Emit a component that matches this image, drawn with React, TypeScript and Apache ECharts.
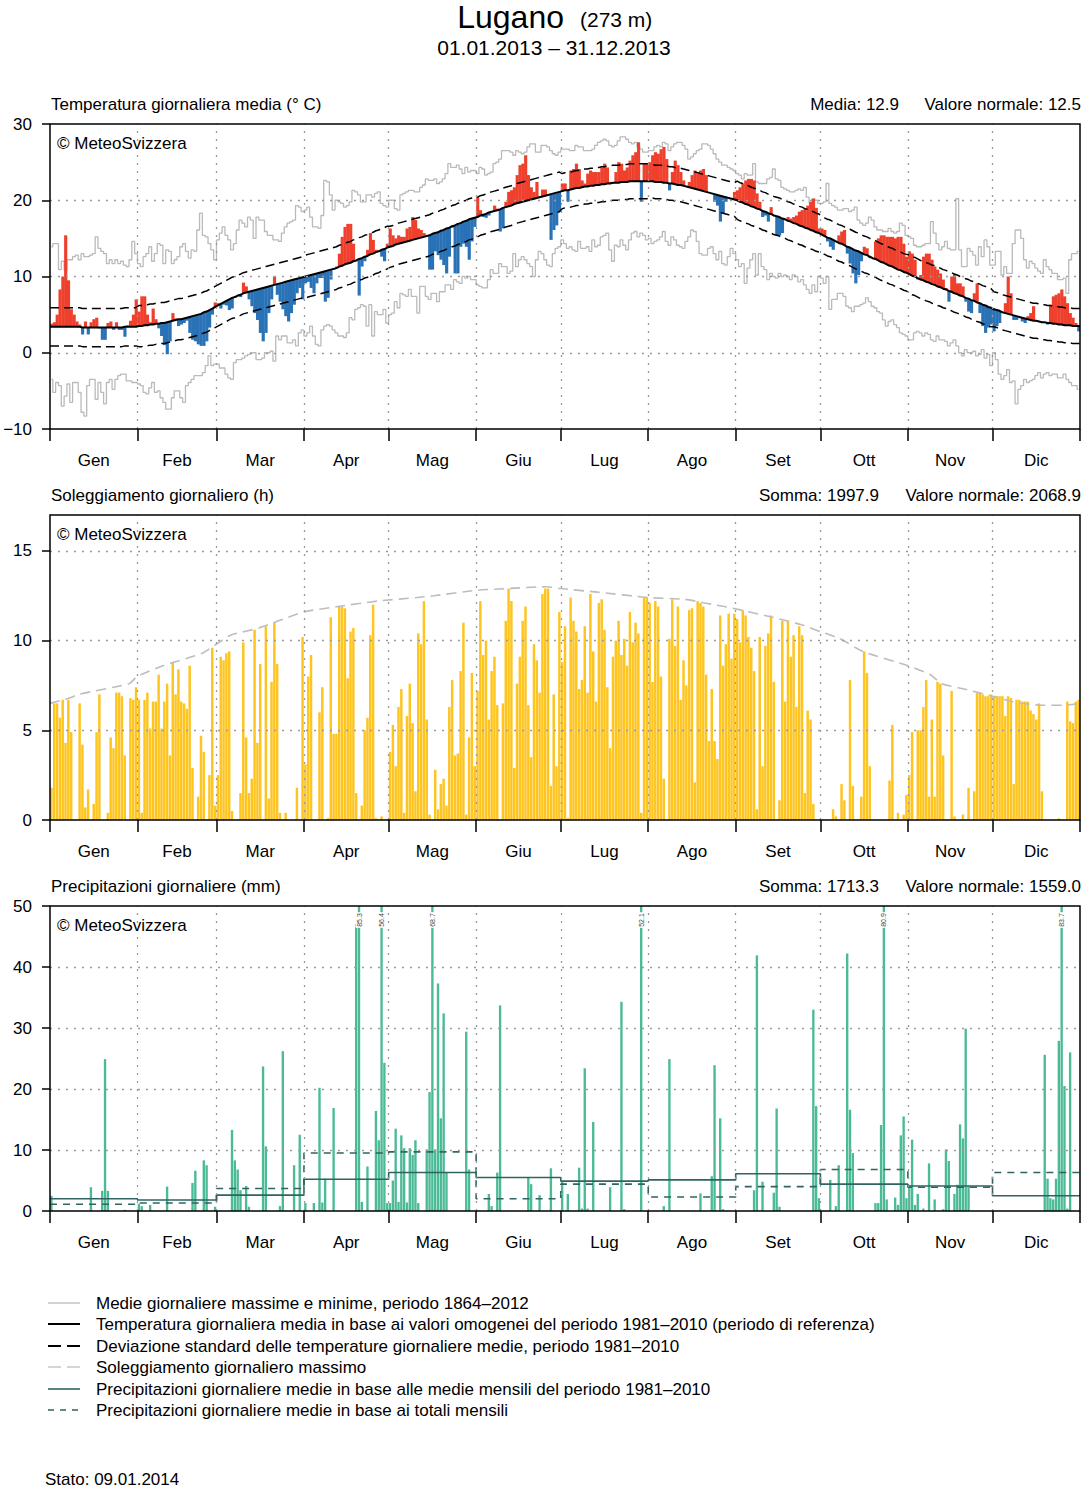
import React, { useEffect, useRef } from "react";
import * as echarts from "echarts";

const FONT = "'Liberation Sans', Arial, Helvetica, sans-serif";
const FS = 17;

const monthNames = ["Gen", "Feb", "Mar", "Apr", "Mag", "Giu", "Lug", "Ago", "Set", "Ott", "Nov", "Dic"];
const monthDays = [31, 28, 31, 30, 31, 30, 31, 31, 30, 31, 30, 31];

// daily mean temperature 2013 (°C)
const tempMean = [
  3.8,4.0,5.0,8.3,10.0,15.4,9.5,5.7,5.0,4.1,3.7,2.4,4.1,2.4,4.0,4.4,4.6,3.2,1.7,1.7,3.9,4.1,3.0,4.0,3.0,3.0,2.1,3.6,4.2,5.0,7.0,
  5.4,7.4,7.4,5.0,4.0,5.8,4.4,3.2,2.2,1.0,-0.2,1.5,5.2,4.5,3.5,3.7,3.9,4.2,2.6,1.7,1.5,1.1,0.9,0.9,1.5,3.3,5.0,6.6,
  6.5,5.8,6.3,6.2,5.6,5.8,7.2,7.4,7.3,9.2,8.7,7.0,6.1,5.2,4.3,2.6,1.5,2.6,5.2,7.0,10.0,7.6,6.7,5.7,4.8,4.1,5.2,6.3,7.8,8.5,7.0,
  9.1,9.3,8.5,7.8,9.1,9.8,9.8,6.7,7.2,9.6,10.9,11.3,13.0,15.2,16.5,16.9,16.9,14.3,12.0,7.5,11.3,12.0,13.5,15.7,14.8,13.5,13.3,12.6,12.0,14.3,
  16.3,15.4,15.0,15.4,15.2,15.2,16.3,16.5,17.8,17.4,16.3,16.1,15.7,15.3,10.9,10.9,13.3,12.8,12.2,11.5,10.4,12.6,16.4,10.4,10.4,13.9,14.3,13.9,12.2,14.6,16.5,
  20.4,18.7,17.8,17.7,18.0,18.5,19.3,18.9,15.9,16.3,19.8,21.1,21.3,21.7,23.3,24.6,24.8,25.9,23.3,21.7,21.1,22.4,20.5,21.4,21.4,20.7,14.8,16.1,16.7,18.5,
  22.2,22.2,19.8,23.9,24.1,24.8,24.1,22.6,22.2,23.5,23.9,23.7,23.7,23.7,24.3,24.8,24.3,22.4,22.2,23.7,25.0,24.8,23.9,24.3,25.2,25.9,26.3,27.6,19.8,24.8,24.8,
  25.0,25.9,26.3,26.1,26.7,27.0,25.4,21.3,23.7,25.2,24.6,23.7,22.6,21.8,22.4,23.3,23.9,23.5,23.9,24.1,23.3,21.0,20.8,19.8,19.3,17.2,18.3,19.8,20.3,20.1,21.1,
  21.3,21.7,22.2,22.6,22.8,22.8,22.6,20.9,19.8,17.8,18.0,17.2,19.1,18.0,15.4,15.4,15.7,17.5,17.8,17.6,17.8,18.0,18.5,18.7,18.9,19.3,19.8,20.2,19.0,16.3,
  16.3,16.1,14.6,13.9,13.5,14.5,15.4,15.9,16.1,13.0,11.7,10.4,9.1,10.2,12.0,13.9,13.7,12.4,12.4,14.6,15.0,15.4,15.4,15.2,15.2,15.2,15.0,15.2,15.2,14.3,12.6,
  13.3,13.0,12.2,9.6,10.2,12.6,13.0,13.0,12.2,11.3,10.9,10.4,9.6,8.5,6.7,10.0,10.4,9.1,9.1,8.7,6.7,5.4,5.2,7.8,9.1,5.2,3.5,2.6,3.3,3.7,
  2.8,3.5,3.9,5.3,6.5,10.0,7.8,4.3,4.3,4.7,4.1,3.9,4.8,5.2,6.1,4.2,4.1,4.0,3.9,3.7,6.3,7.4,7.6,7.8,8.3,7.4,6.5,5.2,4.6,3.9,2.8,
];

// daily normal 1981-2010 (°C)
const tempNormal = [
  3.4,3.4,3.4,3.4,3.4,3.4,3.4,3.4,3.4,3.4,3.4,3.3,3.3,3.3,3.3,3.3,3.3,3.3,3.3,3.3,3.3,3.3,3.3,3.3,3.3,3.3,3.4,3.4,3.4,3.4,3.4,
  3.5,3.5,3.6,3.6,3.7,3.7,3.8,3.8,3.9,3.9,4.0,4.1,4.2,4.3,4.4,4.4,4.5,4.6,4.7,4.8,4.9,5.0,5.1,5.3,5.4,5.6,5.8,6.0,
  6.2,6.4,6.6,6.8,7.0,7.2,7.3,7.5,7.6,7.8,7.9,8.0,8.1,8.2,8.3,8.4,8.5,8.6,8.7,8.8,8.9,9.0,9.1,9.2,9.3,9.4,9.5,9.6,9.7,9.8,9.9,
  10.0,10.1,10.2,10.3,10.4,10.5,10.6,10.7,10.8,10.9,11.0,11.1,11.3,11.4,11.6,11.7,11.8,12.0,12.1,12.3,12.4,12.6,12.7,12.9,13.0,13.2,13.3,13.5,13.6,13.8,
  13.9,14.0,14.2,14.3,14.4,14.5,14.6,14.7,14.8,14.9,15.0,15.1,15.2,15.3,15.4,15.6,15.7,15.8,16.0,16.1,16.3,16.4,16.6,16.7,16.9,17.0,17.2,17.3,17.5,17.6,17.7,
  17.8,18.0,18.1,18.2,18.4,18.5,18.6,18.7,18.8,19.0,19.1,19.2,19.3,19.5,19.6,19.7,19.8,19.9,20.0,20.1,20.2,20.3,20.4,20.5,20.6,20.7,20.8,20.9,21.0,21.1,
  21.2,21.3,21.3,21.4,21.5,21.6,21.6,21.7,21.8,21.8,21.9,21.9,22.0,22.0,22.1,22.1,22.2,22.2,22.3,22.3,22.3,22.4,22.4,22.4,22.5,22.5,22.5,22.5,22.5,22.5,22.5,
  22.5,22.5,22.4,22.4,22.4,22.3,22.3,22.2,22.2,22.1,22.0,22.0,21.9,21.8,21.7,21.6,21.5,21.4,21.3,21.2,21.1,21.0,20.9,20.8,20.7,20.6,20.5,20.4,20.3,20.2,20.1,
  20.0,19.8,19.7,19.5,19.4,19.2,19.1,18.9,18.8,18.6,18.5,18.3,18.2,18.0,17.9,17.8,17.6,17.5,17.3,17.2,17.0,16.9,16.7,16.6,16.4,16.3,16.1,16.0,15.8,15.7,
  15.5,15.3,15.1,15.0,14.8,14.6,14.4,14.3,14.1,13.9,13.8,13.6,13.4,13.3,13.1,12.9,12.8,12.6,12.4,12.3,12.1,11.9,11.8,11.6,11.4,11.3,11.1,10.9,10.8,10.6,10.5,
  10.3,10.1,10.0,9.8,9.6,9.5,9.3,9.2,9.0,8.9,8.7,8.6,8.4,8.3,8.1,8.0,7.8,7.7,7.5,7.4,7.2,7.1,6.9,6.8,6.6,6.5,6.3,6.2,6.0,5.9,
  5.7,5.6,5.5,5.3,5.2,5.1,5.0,4.9,4.8,4.7,4.6,4.5,4.4,4.3,4.2,4.2,4.1,4.0,4.0,3.9,3.9,3.8,3.8,3.7,3.7,3.6,3.6,3.6,3.5,3.5,3.5,
];

// monthly standard deviation of daily means 1981-2010 (°C)
const tempSd = [2.5, 2.7, 2.7, 2.8, 2.7, 2.6, 2.3, 2.2, 2.5, 2.4, 2.5, 2.3];

// highest daily mean 1864-2012 (°C)
const tempHistMax = [
  13.9,14.3,14.3,10.9,12.0,10.8,12.2,12.2,12.6,12.8,12.2,13.0,12.6,12.6,12.8,13.0,15.2,13.7,13.3,13.0,11.7,12.2,11.7,12.2,11.7,12.0,11.5,11.3,12.2,14.6,13.0,
  11.7,11.3,12.6,13.0,13.9,12.0,13.0,14.3,14.1,11.7,13.5,13.3,11.7,12.2,12.6,13.9,14.3,13.3,12.4,13.5,13.3,16.1,18.3,15.4,15.2,14.3,13.5,12.2,
  14.8,15.7,16.5,15.4,14.8,13.5,14.3,16.1,17.4,17.0,16.5,17.8,17.4,15.0,17.8,17.4,17.4,15.9,15.4,15.4,14.8,14.8,14.6,15.7,16.5,17.0,17.2,17.4,19.3,19.1,18.5,
  18.7,19.1,17.8,16.5,16.5,16.3,18.0,22.6,22.4,20.7,18.7,20.0,19.8,19.6,19.1,19.3,19.8,21.3,21.1,20.7,19.8,19.8,20.7,20.7,20.4,20.9,21.1,19.6,19.3,19.1,
  20.0,20.0,18.9,18.7,20.7,20.9,21.1,21.3,21.3,21.1,21.1,21.7,22.0,22.8,22.6,22.6,22.8,22.2,22.4,22.8,23.5,24.8,24.3,24.3,24.6,24.1,23.5,24.3,23.7,23.9,23.9,
  23.5,24.3,24.1,23.3,23.5,23.7,24.8,25.0,25.4,26.5,26.5,26.5,26.3,25.9,26.5,26.3,26.1,26.3,27.0,27.4,27.4,26.3,26.3,27.2,27.2,27.0,26.5,26.1,25.9,26.3,
  26.7,26.7,26.7,26.5,26.5,27.2,27.0,27.0,26.5,26.5,26.5,26.7,27.2,27.6,27.8,28.0,27.8,27.2,27.0,27.2,27.8,28.3,28.3,28.0,27.6,27.4,27.6,27.0,26.7,26.3,26.3,
  26.5,26.5,27.0,27.2,27.0,27.6,27.4,26.5,27.0,27.4,27.6,27.6,27.2,26.7,25.4,25.7,26.1,26.5,26.7,27.4,27.4,27.2,26.7,26.1,25.4,25.0,24.6,24.6,24.3,24.1,23.9,
  23.5,23.3,22.8,23.5,23.3,23.3,24.8,22.4,22.2,22.2,22.2,22.8,23.0,24.1,22.8,22.6,21.7,21.5,21.3,21.1,21.1,21.3,21.5,21.3,21.7,20.4,19.6,20.2,20.0,19.6,
  19.6,19.8,22.2,19.6,19.3,19.1,18.7,18.7,18.9,18.9,18.5,18.7,19.1,17.4,17.0,16.7,17.0,17.8,17.4,16.5,16.1,16.1,15.9,15.9,16.3,15.9,15.7,15.9,17.0,16.7,15.4,
  15.2,15.0,14.1,13.9,13.9,14.1,14.3,14.3,17.2,15.7,14.3,13.5,13.9,14.6,13.7,13.5,13.5,20.2,13.5,11.3,11.3,13.7,13.3,12.8,11.5,13.9,12.6,14.8,13.9,11.5,
  11.5,13.3,13.3,10.2,11.3,10.4,10.4,14.3,16.1,16.1,15.0,12.2,11.1,12.0,11.7,11.1,10.7,10.4,12.2,11.3,10.9,10.4,10.4,9.6,9.6,9.8,7.8,12.2,13.0,13.0,13.3,
];

// lowest daily mean 1864-2012 (°C)
const tempHistMin = [
  -3.5,-5.2,-3.9,-4.3,-7.0,-5.7,-4.1,-6.5,-3.9,-3.9,-5.2,-7.8,-8.3,-4.3,-3.5,-3.5,-6.1,-3.9,-5.2,-6.7,-3.9,-3.5,-4.8,-3.5,-3.0,-2.8,-2.8,-3.7,-3.7,-3.9,-3.9,
  -4.1,-4.3,-5.2,-5.4,-4.6,-3.9,-5.2,-5.0,-5.9,-6.5,-7.4,-7.4,-5.9,-5.0,-5.0,-5.9,-6.5,-4.3,-3.9,-3.5,-3.0,-3.0,-3.0,-2.6,-1.7,-0.4,-1.7,-1.5,
  -1.5,-2.0,-2.0,-2.8,-3.3,-3.5,-1.3,-0.9,-0.9,-0.7,-0.4,-0.2,0.0,0.0,-0.9,-0.9,-0.7,0.0,0.0,0.2,-1.1,2.2,1.7,2.2,2.2,1.3,1.3,1.7,0.9,2.6,3.0,
  2.2,2.6,3.5,2.2,1.1,0.9,3.0,3.5,3.7,3.5,3.0,2.6,2.2,2.2,2.0,2.6,4.6,4.3,5.7,5.9,6.3,6.1,3.5,6.3,2.2,5.4,5.0,5.0,5.7,3.9,
  5.0,5.2,6.7,5.9,7.8,7.6,7.4,8.3,7.4,7.4,5.2,8.7,8.7,7.4,7.0,7.8,7.8,6.7,8.0,8.0,8.9,8.9,8.3,9.6,9.3,9.1,10.0,9.8,10.0,9.6,9.6,
  8.9,8.7,8.5,8.5,9.6,10.9,10.4,10.4,11.7,11.3,11.3,10.4,10.7,13.0,11.3,12.2,12.6,12.2,11.7,11.3,10.0,12.2,13.3,13.0,12.2,11.5,11.3,13.0,13.7,13.9,
  14.8,14.3,13.7,13.9,13.5,13.3,14.6,13.7,13.7,13.9,13.3,14.8,13.9,14.1,15.2,15.4,15.7,13.5,12.0,14.1,13.9,14.8,14.1,13.5,14.8,15.7,15.9,15.2,15.7,15.4,14.8,
  15.0,14.3,14.6,14.8,15.2,15.9,14.6,14.1,15.2,14.8,14.1,13.9,13.7,14.6,15.2,16.1,15.9,14.6,13.0,12.8,12.8,13.7,13.9,13.0,12.2,13.3,11.7,11.5,12.6,13.7,13.0,
  12.2,11.3,11.7,9.1,11.1,12.2,13.0,10.2,13.0,11.3,10.9,9.6,10.4,10.0,9.8,10.4,10.0,10.2,10.0,9.6,10.2,10.0,9.3,9.6,8.9,8.3,7.8,8.9,8.0,10.0,
  9.8,9.1,10.0,5.7,7.0,7.0,7.8,7.8,7.4,6.1,5.9,5.4,6.1,6.1,6.3,6.5,7.2,6.7,6.1,5.9,5.4,5.2,4.3,3.5,4.1,4.3,3.7,3.3,2.6,2.4,2.2,
  1.7,1.7,2.6,2.8,2.6,2.2,2.6,2.4,1.7,1.5,2.2,1.7,1.7,1.5,0.9,1.3,1.7,0.9,0.0,-0.4,0.4,0.0,0.0,0.2,-0.4,-0.2,0.4,-0.7,-0.2,-1.7,
  0.0,-0.9,-2.8,-3.5,-3.0,-2.2,-3.9,-3.7,-6.7,-4.8,-4.3,-3.5,-3.9,-3.7,-3.5,-3.0,-2.6,-3.3,-2.8,-2.6,-3.0,-2.8,-2.8,-3.3,-3.3,-2.8,-3.5,-3.9,-4.3,-4.3,-4.8,
];

// daily sunshine 2013 (h)
const sunshine = [
  1.8,6.5,6.5,5.7,6.7,4.3,6.7,4.9,0,0,6.5,4.2,0.7,1.7,0,0.9,4.9,7.0,0,0,0.4,4.6,4.0,7.1,7.1,6.9,3.6,0,6.8,6.7,7.4,
  6.7,0.4,6.7,7.1,5.1,6.6,6.6,8.1,5.1,6.6,7.6,3.6,8.8,7.0,8.4,6.6,6.5,6.2,8.6,2.9,0,1.3,4.7,3.8,0,2.5,9.6,0.8,
  2.5,9.1,8.9,9.3,9.4,0.5,0,0,1.5,9.9,4.6,1.5,2.3,10.6,4.3,8.7,0,10.8,1.2,7.7,11.0,8.7,0.4,0,0.4,0,0,0,1.8,0,10.2,
  3.1,8.0,9.2,0,0,6.0,7.4,0,0.1,11.3,4.8,4.8,11.9,11.9,11.8,7.9,10.5,10.7,1.5,0,0.8,5.0,5.7,10.3,12.0,0.1,0,0.2,0,0,
  3.8,5.3,3.0,6.3,7.3,0.4,5.8,7.6,5.4,1.6,10.4,9.8,12.2,5.6,0.3,0,2.8,0.6,2.0,2.3,0.8,6.3,7.8,3.6,3.7,8.3,11.0,0.3,4.6,8.2,3.0,
  7.2,12.2,9.2,10.0,5.6,8.3,9.1,6.4,0,6.5,11.1,12.9,12.2,2.9,7.6,9.1,11.1,11.9,6.4,3.5,9.8,8.9,7.1,12.6,12.9,12.9,1.9,7.0,3.0,11.6,
  8.8,10.8,0.1,12.4,11.1,10.5,7.3,7.8,10.8,7.1,12.6,9.4,6.6,12.1,12.3,10.6,7.4,4.0,9.1,10.0,11.1,9.2,10.1,8.6,11.6,9.9,11.0,10.4,0.4,12.4,12.4,
  12.1,7.7,12.2,11.9,8.0,2.3,0,10.1,12.3,9.7,11.9,6.7,8.9,7.5,11.7,11.8,2.1,12.2,12.1,11.9,8.1,4.4,7.3,4.4,3.4,11.4,8.6,9.8,11.5,9.0,11.5,
  11.2,9.9,11.7,11.4,10.2,9.6,8.3,0.6,10.2,3.0,9.7,10.4,11.4,7.7,0,1.1,11.1,6.6,11.1,9.1,10.3,6.3,10.8,10.3,1.5,6.1,5.6,0.9,0,0,
  0,0,0,0,0.6,0.2,0,2.0,1.1,0,7.8,1.9,0,0,1.3,9.4,8.2,3.0,0,0,0,0,0,0,2.2,5.3,0,0.4,0,0.3,1.4,
  2.5,4.9,0,5.0,5.0,6.3,7.8,1.3,5.6,1.3,7.7,7.6,3.6,0,0,7.2,0.2,0,0,0.3,0,1.8,0,1.6,7.1,7.1,7.0,6.9,6.9,7.0,
  6.9,6.9,6.9,6.9,5.8,6.9,6.8,2.0,6.7,6.7,6.6,6.6,6.6,6.1,5.9,5.6,6.5,1.6,0,0,0,0,0,0.1,0,0,6.6,5.5,5.4,6.6,6.7,
];

// maximum possible daily sunshine (day of year, h)
const sunMaxDay = [0,7,10,28,31,40,54,59,64,74,81,90,102,116,130,136,151,162,176,181,194,212,225,232,242,256,266,273,280,288,304,312,316,324,334,341,351,359,365];
const sunMaxVal = [6.5,6.8,7.0,7.6,8.0,8.6,9.3,9.8,10.3,10.7,11.1,11.6,11.9,12.2,12.4,12.5,12.8,12.9,13.0,12.9,12.7,12.4,12.3,12.1,11.8,11.3,10.9,10.5,10.1,9.4,8.6,8.1,7.6,7.3,6.9,6.6,6.4,6.4,6.5];

// daily precipitation 2013 (mm)
const precip = [
  2.5,0,0,0,0,0,0,0,0,0,0,0,0,0,3.9,0,0,0,3.3,24.9,3.3,0,0,0,0,0,0.2,0,0,0,0,
  1.2,0.8,0,0,1.0,0,0,0,0,0,4.0,0,0,0,0,0,0,0,0,4.6,6.6,0,0,8.3,7.5,0,0,0.7,
  0,0,0,0,0,13.3,8.3,6.8,3.4,0,4.1,0.7,0,0,0,0,23.7,10.6,0,0,0,0,0.8,26.2,0,0,0,7.5,0,12.5,0,
  1.3,0,0,1.3,0,20.2,1.4,5.3,0,0,16.9,0,0,0,0,0,0,0,47.0,85.3,1.5,0,7.3,0,0,16.4,11.6,56.4,24.3,1.3,
  1.3,5.0,13.5,1.5,12.4,10.3,1.4,10.3,9.2,11.6,1.3,0,0,10.1,19.5,68.7,10.1,37.3,15.2,32.4,6.4,0,0,0,0,0,0,29.4,6.8,0,0,
  0,0,0,0,2.8,0.8,0,6.3,33.7,0,0,0,0,0,0,0,0,0,5.5,4.4,0,0,2.6,0,0,0,7.0,0,0,0,
  4.8,0,2.8,0,0,0,7.1,0.4,23.4,0.4,0,14.6,0,0,0,0,0,3.9,0,0,0,34.3,0.3,0,0,0,0,0,52.1,0,0,
  0,0,0,0,0,0.8,0,24.9,0,0,0,0,0,0,0,0,0,0,2.9,0,0,0,5.7,23.9,0,15.2,0.3,0,0,0,0,
  0,0,0,0,0,0,3.4,41.9,0,4.8,0,0,0,3.0,16.8,0.7,0,0,0,0,0,0,0,0,0,0,0,33.0,17.2,2.1,
  0,0,0,5.1,0,0.8,7.5,0,0,42.2,16.6,9.5,0,0,0,0,0,0,0,1.3,1.3,14.1,80.9,1.9,0,0,2.2,1.0,12.4,15.5,2.1,
  4.3,11.7,1.0,2.8,0,0.4,0,7.8,0,1.9,0,0,0.3,10.1,8.2,0,2.8,4.3,14.2,11.9,29.9,4.1,0,0,0,0,0,0,0,0,
  0,0,0,0,0,0,0,0,0,0,0,0,0,0,0,0,0,0,25.6,5.3,2.1,1.9,5.3,27.9,83.7,20.5,0.4,26.0,0,0,0,
];

// mean daily precipitation per month (mm/day)
const precipNormal = [2.0, 1.8, 2.6, 5.2, 6.3, 5.5, 4.9, 5.1, 6.1, 4.4, 4.1, 2.5];
const precip2013 = [1.1, 1.3, 3.7, 9.5, 9.7, 2.0, 4.4, 2.3, 4.0, 6.8, 3.9, 6.3];

const RED = "#ee402d";
const BLUE = "#2a72b6";
const SUN = "#fec420";
const RAIN = "#4bba96";
const RAINLINE = "#2f6462";
const GREY = "#bababa";
const GRIDC = "#9a9a9a";

function App() {
  const ref = useRef<HTMLDivElement>(null);

  useEffect(() => {
    if (!ref.current) return;
    const chart = echarts.init(ref.current, null, { renderer: "svg" });

    const starts: number[] = [0];
    monthDays.forEach((n) => starts.push(starts[starts.length - 1] + n));
    const mids = monthDays.map((n, i) => starts[i] + n / 2);
    const monthOf = (d: number) => {
      for (let m = 0; m < 12; m++) if (d < starts[m + 1]) return m;
      return 11;
    };

    const tops = [124, 515, 906];
    const H = 305;

    const xAxes = [0, 1, 2].map((gi) => ({
      type: "value",
      gridIndex: gi,
      min: 0,
      max: 365,
      axisLine: { show: false, onZero: false },
      splitLine: { show: false },
      axisTick: { show: true, customValues: starts, length: 12, lineStyle: { color: "#000", width: 1.5 } },
      axisLabel: {
        customValues: mids,
        fontSize: FS,
        color: "#000",
        fontFamily: FONT,
        margin: 23,
        formatter: (v: number) => {
          const i = mids.findIndex((m) => Math.abs(m - v) < 0.6);
          return i >= 0 ? monthNames[i] : "";
        },
      },
    }));

    const yBase = {
      type: "value",
      axisLine: { show: false, onZero: false },
      splitLine: { show: false },
      axisTick: { show: true, length: 8, lineStyle: { color: "#000", width: 1.5 } },
    };
    const yLabel = { fontSize: FS, color: "#000", fontFamily: FONT, margin: 18 };
    const yAxes = [
      {
        ...yBase, gridIndex: 0, min: -10, max: 30, interval: 10,
        axisLabel: { ...yLabel, formatter: (v: number) => (v < 0 ? "\u2212" + Math.abs(v) : String(v)) },
      },
      {
        ...yBase, gridIndex: 1, min: 0, max: 17,
        axisTick: { ...yBase.axisTick, customValues: [0, 5, 10, 15] },
        axisLabel: { ...yLabel, customValues: [0, 5, 10, 15] },
      },
      { ...yBase, gridIndex: 2, min: 0, max: 50, interval: 10, axisLabel: { ...yLabel } },
    ];

    const gridLines = (ys: number[]) => ({
      silent: true,
      symbol: ["none", "none"],
      label: { show: false },
      emphasis: { disabled: true },
      animation: false,
      lineStyle: { type: [2, 6], color: GRIDC, width: 1.3 },
      data: [
        ...starts.slice(1, 12).map((v) => ({ xAxis: v })),
        ...ys.map((v) => ({ yAxis: v })),
      ],
    });

    const stepLine = (arr: number[]) => arr.map((v, i) => [i + 0.5, v]);
    const withEnds = (pts: number[][]) => [[0, pts[0][1]], ...pts, [365, pts[pts.length - 1][1]]];

    const normalPts = withEnds(stepLine(tempNormal));
    const upperPts = withEnds(tempNormal.map((v, i) => [i + 0.5, v + tempSd[monthOf(i)]]));
    const lowerPts = withEnds(tempNormal.map((v, i) => [i + 0.5, v - tempSd[monthOf(i)]]));

    const monthSteps = (vals: number[]) => {
      const pts: number[][] = [];
      vals.forEach((v, m) => {
        pts.push([starts[m], v]);
        pts.push([starts[m + 1], v]);
      });
      return pts;
    };

    const lineCommon = {
      type: "line",
      showSymbol: false,
      symbol: "none",
      silent: true,
      animation: false,
    };

    const series: any[] = [
      {
        type: "custom",
        xAxisIndex: 0,
        yAxisIndex: 0,
        clip: true,
        z: 3,
        silent: true,
        data: tempMean.map((v, i) => [i, v, tempNormal[i]]),
        renderItem: (_p: any, api: any) => {
          const d = api.value(0);
          const v = api.value(1);
          const n = api.value(2);
          const a = api.coord([d, v]);
          const b = api.coord([d + 1, n]);
          return {
            type: "rect",
            shape: { x: a[0], y: Math.min(a[1], b[1]), width: b[0] - a[0] + 0.35, height: Math.abs(a[1] - b[1]) },
            style: { fill: v >= n ? RED : BLUE },
          };
        },
      },
      {
        ...lineCommon, xAxisIndex: 0, yAxisIndex: 0, z: 2, step: "middle",
        data: stepLine(tempHistMax),
        lineStyle: { color: GREY, width: 1.3 },
        markLine: gridLines([0, 10, 20]),
      },
      {
        ...lineCommon, xAxisIndex: 0, yAxisIndex: 0, z: 2, step: "middle",
        data: stepLine(tempHistMin),
        lineStyle: { color: GREY, width: 1.3 },
      },
      {
        ...lineCommon, xAxisIndex: 0, yAxisIndex: 0, z: 4,
        data: normalPts,
        lineStyle: { color: "#000", width: 2 },
      },
      {
        ...lineCommon, xAxisIndex: 0, yAxisIndex: 0, z: 4,
        data: upperPts,
        lineStyle: { color: "#000", width: 1.5, type: [9, 5] },
      },
      {
        ...lineCommon, xAxisIndex: 0, yAxisIndex: 0, z: 4,
        data: lowerPts,
        lineStyle: { color: "#000", width: 1.5, type: [9, 5] },
      },
      {
        type: "custom",
        xAxisIndex: 1,
        yAxisIndex: 1,
        clip: true,
        z: 3,
        silent: true,
        data: sunshine.map((v, i) => [i, v]),
        renderItem: (_p: any, api: any) => {
          const d = api.value(0);
          const v = api.value(1);
          const a = api.coord([d + 0.06, v]);
          const b = api.coord([d + 0.94, 0]);
          return {
            type: "rect",
            shape: { x: a[0], y: a[1], width: b[0] - a[0], height: b[1] - a[1] },
            style: { fill: SUN },
          };
        },
      },
      {
        ...lineCommon, xAxisIndex: 1, yAxisIndex: 1, z: 4, smooth: 0.2,
        data: sunMaxDay.map((d, i) => [d, sunMaxVal[i]]),
        lineStyle: { color: "#bdbdbd", width: 1.6, type: [10, 6] },
        markLine: gridLines([5, 10, 15]),
      },
      {
        type: "custom",
        xAxisIndex: 2,
        yAxisIndex: 2,
        clip: true,
        z: 3,
        silent: true,
        data: precip.map((v, i) => [i, v]),
        renderItem: (_p: any, api: any) => {
          const d = api.value(0);
          const v = api.value(1);
          if (!v) return null;
          const a = api.coord([d + 0.08, v]);
          const b = api.coord([d + 0.92, 0]);
          const children: any[] = [
            { type: "rect", shape: { x: a[0], y: a[1], width: b[0] - a[0], height: b[1] - a[1] }, style: { fill: RAIN } },
          ];
          if (v > 50) {
            const t = api.coord([d + 0.5, 50]);
            children.push({
              type: "text",
              x: t[0],
              y: t[1] + 14,
              rotation: Math.PI / 2,
              z2: 10,
              style: {
                text: v.toFixed(1),
                fontSize: 7,
                fontFamily: FONT,
                fill: "#444",
                align: "center",
                verticalAlign: "middle",
                backgroundColor: "#fff",
                padding: [0, 1],
              },
            });
          }
          return { type: "group", children };
        },
      },
      {
        ...lineCommon, xAxisIndex: 2, yAxisIndex: 2, z: 4,
        data: monthSteps(precipNormal),
        lineStyle: { color: RAINLINE, width: 1.6 },
        markLine: gridLines([10, 20, 30, 40]),
      },
      {
        ...lineCommon, xAxisIndex: 2, yAxisIndex: 2, z: 4,
        data: monthSteps(precip2013),
        lineStyle: { color: RAINLINE, width: 1.6, type: [7, 6] },
      },
    ];

    const txt = (x: number, y: number, text: string, size = FS, align = "left") => ({
      type: "text",
      x,
      y,
      z: 100,
      silent: true,
      style: {
        text,
        fontSize: size,
        fontFamily: FONT,
        fill: "#000",
        align,
        textAlign: align,
        verticalAlign: "middle",
        textVerticalAlign: "middle",
      },
    });

    const legendItems = [
      { y: 1303, text: "Medie giornaliere massime e minime, periodo 1864\u20132012", color: "#c4c4c4", dash: null, w: 1.5 },
      { y: 1324, text: "Temperatura giornaliera media in base ai valori omogenei del periodo 1981\u20132010 (periodo di referenza)", color: "#000", dash: null, w: 2 },
      { y: 1346, text: "Deviazione standard delle temperature giornaliere medie, periodo 1981\u20132010", color: "#000", dash: [13, 6], w: 2 },
      { y: 1367, text: "Soleggiamento giornaliero massimo", color: "#c8c8c8", dash: [13, 6], w: 1.5 },
      { y: 1389, text: "Precipitazioni giornaliere medie in base alle medie mensili del periodo 1981\u20132010", color: RAINLINE, dash: null, w: 1.6 },
      { y: 1410, text: "Precipitazioni giornaliere medie in base ai totali mensili", color: RAINLINE, dash: [6, 6], w: 1.6 },
    ];

    const graphics: any[] = [
      txt(564, 17, "Lugano", 32, "right"),
      txt(580, 19, "(273 m)", 21, "left"),
      txt(554, 47, "01.01.2013 \u2013 31.12.2013", 21, "center"),
      txt(51, 104, "Temperatura giornaliera media (\u00b0 C)"),
      txt(899, 104, "Media: 12.9", FS, "right"),
      txt(1081, 104, "Valore normale: 12.5", FS, "right"),
      txt(51, 495, "Soleggiamento giornaliero (h)"),
      txt(879, 495, "Somma: 1997.9", FS, "right"),
      txt(1081, 495, "Valore normale: 2068.9", FS, "right"),
      txt(51, 886, "Precipitazioni giornaliere (mm)"),
      txt(879, 886, "Somma: 1713.3", FS, "right"),
      txt(1081, 886, "Valore normale: 1559.0", FS, "right"),
      ...tops.map((t) => txt(57, t + 19, "\u00a9 MeteoSvizzera")),
      ...tops.map((t) => ({
        type: "rect",
        z: 101,
        silent: true,
        shape: { x: 50, y: t, width: 1030, height: H },
        style: { fill: "none", stroke: "#000", lineWidth: 1.5 },
      })),
      ...legendItems.map((it) => ({
        type: "line",
        z: 100,
        silent: true,
        shape: { x1: 48, y1: it.y, x2: 80, y2: it.y },
        style: { stroke: it.color, lineWidth: it.w, lineDash: it.dash || undefined },
      })),
      ...legendItems.map((it) => txt(96, it.y, it.text)),
      txt(45, 1479, "Stato: 09.01.2014"),
    ];

    chart.setOption({
      animation: false,
      backgroundColor: "#fff",
      textStyle: { fontFamily: FONT },
      grid: tops.map((t) => ({ left: 50, top: t, width: 1030, height: H, containLabel: false })),
      xAxis: xAxes,
      yAxis: yAxes,
      series,
      graphic: { elements: graphics },
    });

    return () => chart.dispose();
  }, []);

  return (
    <div
      ref={ref}
      style={{ position: "absolute", left: 0, top: 0, width: 1082, height: 1487, background: "#fff" }}
    />
  );
}

export default App;
